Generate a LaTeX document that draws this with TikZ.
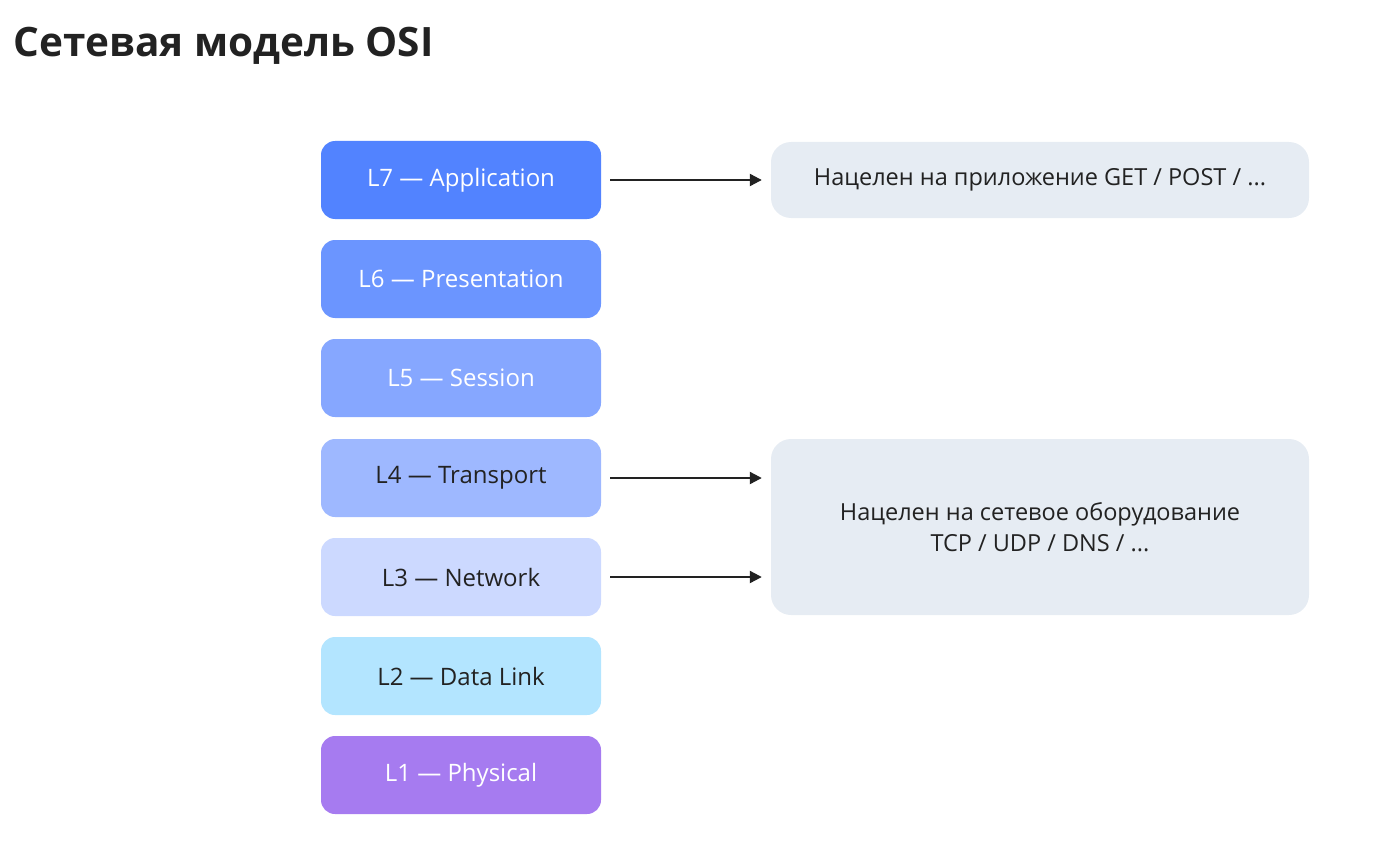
\documentclass[tikz,border=0pt]{standalone}
\usepackage{fontspec}
\setmainfont{Open Sans}
\usetikzlibrary{arrows.meta}
\definecolor{cLseven}{HTML}{5283FF}
\definecolor{cLsix}{HTML}{6B95FF}
\definecolor{cLfive}{HTML}{86A7FF}
\definecolor{cLfour}{HTML}{9EB8FF}
\definecolor{cLthree}{HTML}{CCD9FF}
\definecolor{cLtwo}{HTML}{B3E5FF}
\definecolor{cLone}{HTML}{A67BF0}
\definecolor{cNote}{HTML}{E6ECF3}
\definecolor{cInk}{HTML}{222222}
\tikzset{
  layer/.style={rounded corners=14pt,minimum width=280pt,minimum height=78pt,
    inner sep=0pt,font=\fontsize{24}{28}\selectfont},
  note/.style={fill=cNote,rounded corners=20pt,minimum width=538pt,
    inner sep=0pt,align=center,text=cInk,font=\fontsize{23.5}{31}\selectfont},
  link/.style={-{Triangle[length=12pt,width=12pt]},line width=2.2pt,cInk,
    shorten <=9pt,shorten >=9pt}
}
\begin{document}
\begin{tikzpicture}[x=1pt,y=-1pt]
  \useasboundingbox (0,0) rectangle (1397,848);
  \node[anchor=west,text=cInk,font=\fontsize{40.5}{46}\selectfont\bfseries] (title) at (10,46) {Сетевая модель OSI};
  % layers
  \node[layer,fill=cLseven,text=white] (l7) at (461,180) {L7 — Application};
  \node[layer,fill=cLsix,text=white] (l6) at (461,279) {L6 — Presentation};
  \node[layer,fill=cLfive,text=white] (l5) at (461,378) {L5 — Session};
  \node[layer,fill=cLfour,text=cInk] (l4) at (461,478) {L4 — Transport};
  \node[layer,fill=cLthree,text=cInk] (l3) at (461,577) {L3 — Network};
  \node[layer,fill=cLtwo,text=cInk] (l2) at (461,676) {L2 — Data Link};
  \node[layer,fill=cLone,text=white] (l1) at (461,775) {L1 — Physical};
  % notes
  \node[note,minimum height=76pt] (app) at (1040,180) {Нацелен на приложение GET / POST / ...};
  \node[note,minimum height=176pt] (net) at (1040,527) {Нацелен на сетевое оборудование\\TCP / UDP / DNS / ...};
  \draw[link] (l7.east) -- (app.west);
  \draw[link] (l4.east) -- (l4.east -| net.west);
  \draw[link] (l3.east) -- (l3.east -| net.west);
\end{tikzpicture}
\end{document}
